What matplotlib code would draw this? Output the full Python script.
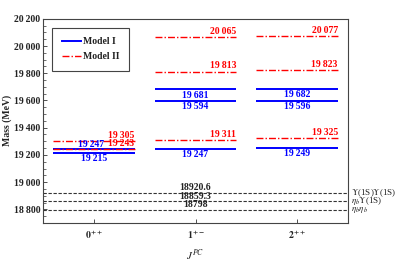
import matplotlib
matplotlib.use("Agg")
import matplotlib.pyplot as plt
from matplotlib.ticker import MultipleLocator, FuncFormatter

plt.rcParams['font.family'] = ['Liberation Serif', 'DejaVu Serif']
plt.rcParams['mathtext.fontset'] = 'stix'

categories = ['$\\mathbf{0^{++}}$', '$\\mathbf{1^{+-}}$', '$\\mathbf{2^{++}}$']
model1 = [[19215, 19247], [19247, 19594, 19681], [19249, 19596, 19682]]
model2 = [[19243, 19305], [19311, 19813, 20065], [19325, 19823, 20077]]
thresholds = [18920.6, 18859.3, 18798]
threshold_values_txt = ['18920.6', '18859.3', '18798']
threshold_names = [r'$\Upsilon$(1S)$\Upsilon$(1S)', r'$\eta_b\Upsilon$(1S)', r'$\eta_b\eta_b$']

def fmt(v):
    s = f"{int(round(v)):,}"
    return s.replace(',', '\u2009')

fig = plt.figure(figsize=(3.99, 2.66), dpi=100)
ax = fig.add_axes([0.108, 0.162, 0.764, 0.767])
ax.set_xlim(-0.5, 2.5)
ax.set_ylim(18700, 20200)

hw = 0.4
fs = 7
for i in range(len(categories)):
    for v in model1[i]:
        ax.plot([i - hw, i + hw], [v, v], color='#0000ff', lw=1.4, solid_capstyle='butt')
    for v in model2[i]:
        ax.plot([i - hw, i + hw], [v, v], color='#ff0000', lw=1.0, ls=(0, (5, 1.5, 1, 1.5)))

# labels
for i in range(len(categories)):
    for v in model2[i]:
        ax.text(i + hw, v + 8, fmt(v), color='#ff0000', fontsize=fs, fontweight='bold',
                ha='right', va='bottom')
    for v in model1[i]:
        if i == 0 and v == 19247:
            ax.text(i - 0.03, v + 30, fmt(v), color='#0000ff', fontsize=fs, fontweight='bold',
                    ha='center', va='center')
        else:
            ax.text(i, v - 8, fmt(v), color='#0000ff', fontsize=fs, fontweight='bold',
                    ha='center', va='top')

for t, tv, name in zip(thresholds, threshold_values_txt, threshold_names):
    ax.axhline(t, color='#333333', lw=0.8, ls=(0, (3, 1.5)))
    ax.text(1, t + 4, tv, color='#222222', fontsize=fs, fontweight='bold', ha='center', va='bottom')
    ax.text(2.53, t, name, color='#222222', fontsize=6.5, ha='left', va='center')

ax.plot([], [], color='#0000ff', lw=1.4, label='Model I')
ax.plot([], [], color='#ff0000', lw=1.0, ls=(0, (5, 1.5, 1, 1.5)), label='Model II')
leg = ax.legend(loc='upper left', prop={'weight': 'bold', 'size': fs}, fancybox=False,
                edgecolor='#444444', framealpha=1, borderpad=1.0, handlelength=2.0,
                handletextpad=0.2, labelspacing=0.6, borderaxespad=0.9)
leg.get_frame().set_linewidth(0.8)
for t in leg.get_texts():
    t.set_color('#222222')

ax.set_xticks(range(len(categories)))
ax.set_xticklabels(categories, fontsize=fs)
ax.yaxis.set_major_locator(MultipleLocator(200))
ax.yaxis.set_minor_locator(MultipleLocator(50))
ax.yaxis.set_major_formatter(FuncFormatter(lambda v, p: fmt(v)))
for lab in ax.get_yticklabels():
    lab.set_fontweight('bold')
ax.tick_params(axis='y', labelsize=fs, direction='in', length=3, width=0.6, colors='#333333',
               labelcolor='#222222', pad=2)
ax.tick_params(axis='y', which='minor', direction='in', length=1.8, width=0.5, colors='#333333')
ax.tick_params(axis='x', direction='in', length=3, width=0.6, colors='#333333', labelcolor='#222222')
for s in ax.spines.values():
    s.set_color('#444444')
    s.set_linewidth(0.8)

ax.set_ylabel('Mass (MeV)', fontsize=fs, fontweight='bold', color='#222222', labelpad=1)
ax.set_xlabel(r'$J^{PC}$', fontsize=fs + 1, color='#222222', labelpad=5)

fig.savefig('out.png', dpi=100)
